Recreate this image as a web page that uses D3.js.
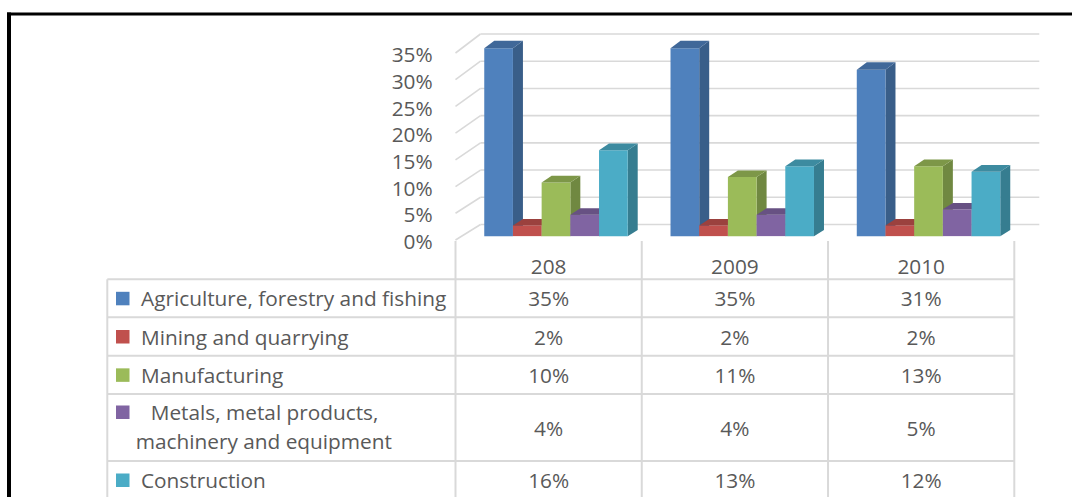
<!DOCTYPE html>
<html>
<head>
<meta charset="utf-8">
<script src="https://cdn.jsdelivr.net/npm/d3@7"></script>
<style>
  html, body { margin: 0; padding: 0; background: #fff; }
  svg { display: block; font-family: "Open Sans", "Noto Sans", sans-serif; }
</style>
</head>
<body>
<svg id="chart" width="1072" height="497"></svg>
<script>
// ---- data ----
const years = ["208", "2009", "2010"];
const seriesNames = [
  "Agriculture, forestry and fishing",
  "Mining and quarrying",
  "Manufacturing",
  "Metals, metal products, machinery and equipment",
  "Construction"
];
const agriculture   = [35, 35, 31];
const mining        = [2, 2, 2];
const manufacturing = [10, 11, 13];
const metals        = [4, 4, 5];
const construction  = [16, 13, 12];
const yTicks = [0, 5, 10, 15, 20, 25, 30, 35];

// ---- styling ----
const seriesColors = ["#4f81bd", "#c0504d", "#9bbb59", "#8064a2", "#4bacc6"];
const textColor = "#595959";
const lineColor = "#d9d9d9";
const fontSize = 20.8;

const seriesValues = [agriculture, mining, manufacturing, metals, construction];

const svg = d3.select("#chart");

// ---- 3D column chart ----
const x = d3.scaleBand().domain(years).range([455.5, 1014.3]);
const inner = d3.scaleBand().domain(d3.range(seriesNames.length))
  .range([22.5, x.bandwidth() - 20.3]);
const yFront = d3.scaleLinear().domain([0, 35]).range([240, 53]);
const yBack  = d3.scaleLinear().domain([0, 35]).range([224.5, 34]);
const depthX = 25;

// oblique projection: z = 0 front plane, z = 1 back wall
const P = (px, v, z) => [px + z * depthX, yFront(v) * (1 - z) + yBack(v) * z];
const poly = pts => "M" + pts.map(p => p.join(",")).join("L") + "Z";

const [x0Range, x1Range] = x.range();

// back wall and side wall gridlines
const grid = svg.append("g").attr("fill", "none").attr("stroke", lineColor).attr("stroke-width", 1.6);
yTicks.forEach(t => {
  const a = P(x0Range, t, 1), b = P(x1Range, t, 1), c = P(x0Range, t, 0);
  grid.append("line").attr("x1", a[0]).attr("y1", a[1]).attr("x2", b[0]).attr("y2", b[1]);
  grid.append("line").attr("x1", c[0]).attr("y1", c[1]).attr("x2", a[0]).attr("y2", a[1]);
});

// bars
const zFront = 0.25, zBack = 0.65;
const bars = svg.append("g");
years.forEach((yr, i) => {
  seriesValues.forEach((vals, j) => {
    const v = vals[i];
    const bx0 = x(yr) + inner(j), bx1 = bx0 + inner.bandwidth();
    const base = d3.color(seriesColors[j]);
    const g = bars.append("g");
    g.append("path").attr("fill", base.darker(0.9).formatHex())
      .attr("d", poly([P(bx1, 0, zFront), P(bx1, 0, zBack), P(bx1, v, zBack), P(bx1, v, zFront)]));
    g.append("path").attr("fill", base.formatHex())
      .attr("d", poly([P(bx0, 0, zFront), P(bx1, 0, zFront), P(bx1, v, zFront), P(bx0, v, zFront)]));
    g.append("path").attr("fill", base.darker(0.6).formatHex())
      .attr("d", poly([P(bx0, v, zFront), P(bx1, v, zFront), P(bx1, v, zBack), P(bx0, v, zBack)]));
  });
});

// value axis
const axis = svg.append("g")
  .attr("transform", "translate(432.7,2)")
  .call(d3.axisLeft(yFront).tickValues(yTicks).tickSize(0).tickPadding(0)
    .tickFormat(d => d + "%"));
axis.select(".domain").remove();
axis.selectAll("text").attr("fill", textColor).attr("font-size", fontSize)
  .attr("font-family", "'Open Sans', 'Noto Sans', sans-serif");

// ---- data table ----
const tableLeft = 107.3;
const rowHeights = [38, 38.4, 38.3, 67, 38];
const tableTop = 279.3;
const rowTops = [tableTop];
rowHeights.forEach((h, k) => rowTops.push(rowTops[k] + h));

const table = svg.append("g");
const tl = table.append("g").attr("stroke", lineColor).attr("stroke-width", 2);
// horizontal rules
rowTops.forEach(yy => {
  tl.append("line").attr("x1", tableLeft).attr("x2", x1Range).attr("y1", yy).attr("y2", yy);
});
// vertical rules
tl.append("line").attr("x1", tableLeft).attr("x2", tableLeft).attr("y1", tableTop).attr("y2", 497);
[x0Range, ...years.map(yr => x(yr) + x.bandwidth())].forEach(xx => {
  tl.append("line").attr("x1", xx).attr("x2", xx).attr("y1", 241).attr("y2", 497);
});

const txt = table.append("g").attr("fill", textColor).attr("font-size", fontSize)
  .attr("dominant-baseline", "central");

// header: categories
years.forEach(yr => {
  txt.append("text").attr("x", x(yr) + x.bandwidth() / 2).attr("y", 266)
    .attr("text-anchor", "middle").text(yr);
});

// legend rows with values
seriesNames.forEach((name, j) => {
  const top = rowTops[j], h = rowHeights[j], cy = top + h / 2;
  const wrapped = j === 3;
  const firstLineY = wrapped ? cy - 15.5 : cy;
  table.append("rect").attr("x", 116).attr("y", firstLineY - 6.5)
    .attr("width", 13.5).attr("height", 13.5).attr("fill", seriesColors[j]);
  if (wrapped) {
    const parts = name.split(", machinery");
    txt.append("text").attr("x", 150.7).attr("y", firstLineY).text(parts[0] + ",");
    txt.append("text").attr("x", 135.7).attr("y", firstLineY + 28.5).text("machinery" + parts[1]);
  } else {
    txt.append("text").attr("x", 141).attr("y", cy).text(name);
  }
  years.forEach((yr, i) => {
    txt.append("text").attr("x", x(yr) + x.bandwidth() / 2).attr("y", cy)
      .attr("text-anchor", "middle").text(seriesValues[j][i] + "%");
  });
});

// ---- frame ----
svg.append("rect").attr("x", 7).attr("y", 12.5).attr("width", 1072 - 7).attr("height", 3).attr("fill", "#000");
svg.append("rect").attr("x", 7).attr("y", 12.5).attr("width", 4).attr("height", 497 - 12.5).attr("fill", "#000");
</script>
</body>
</html>
